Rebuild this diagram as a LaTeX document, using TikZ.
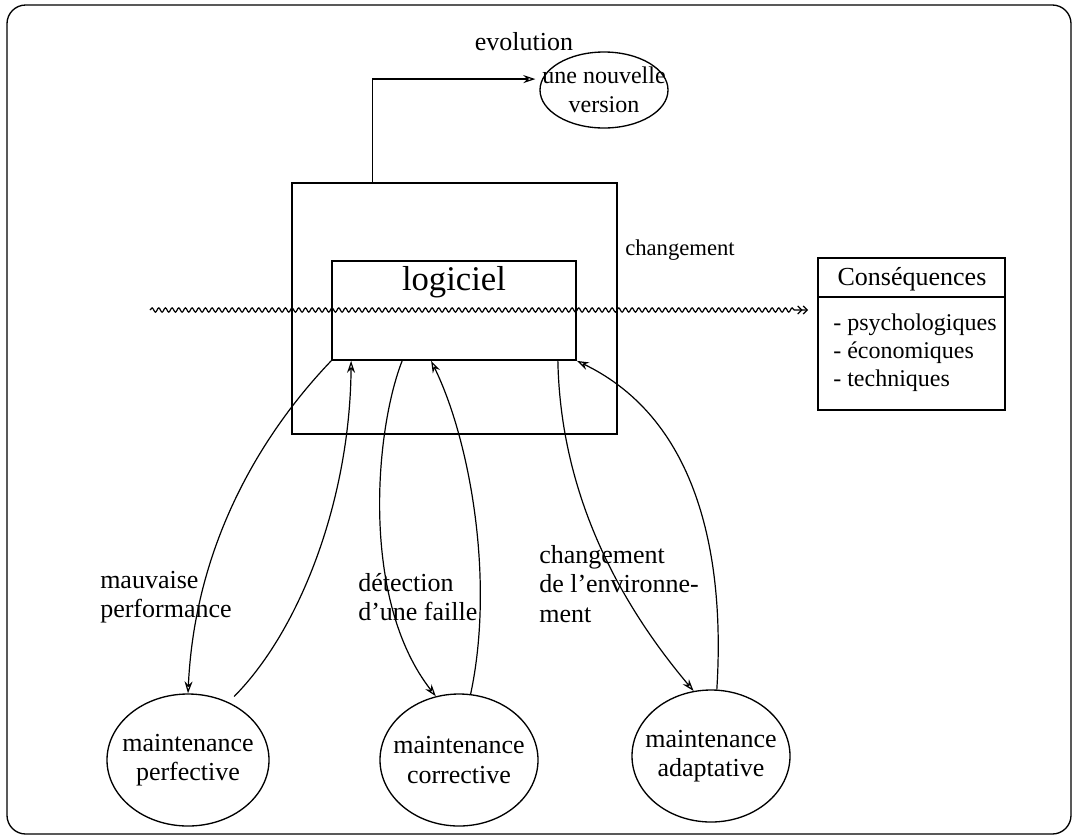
\documentclass[tikz,border=0pt]{standalone}
\usepackage{fontspec}
\setmainfont{Liberation Serif}
\usetikzlibrary{shapes.geometric,arrows.meta,decorations.pathmorphing,calc}

\begin{document}
\begin{tikzpicture}[x=0.75pt,y=-0.75pt,
  every node/.style={font=\fontsize{19.5}{22}\selectfont},
  box/.style={draw, line width=1.3pt, rectangle, inner sep=0pt},
  oval/.style={draw, line width=1pt, ellipse, inner xsep=-30pt, inner ysep=-20pt, align=center},
  lbl/.style={align=left, inner sep=0pt},
  arr/.style={line width=0.9pt, -{Stealth[open,length=9pt,width=6pt]}},
]
\useasboundingbox (0,0) rectangle (1073,836);
% page frame
\draw[line width=1pt, rounded corners=14pt] (7,5) rectangle (1071,834);

% software system and its core
\node[box, minimum width=243.75pt, minimum height=188.25pt] (outer) at (454.5,308.5) {};
\node[box, minimum width=183pt, minimum height=74.25pt] (logiciel) at (454,310.5) {};
\node[font=\fontsize{26}{30}\selectfont] (logtxt) at (454,282) {logiciel};

% consequences box
\node[box, minimum width=140.25pt, minimum height=114pt] (conseq) at (911.5,334) {};
\draw[line width=1.1pt] ($(conseq.north west)+(0,40)$) -- ($(conseq.north east)+(0,40)$);
\node (ctitle) at (912,279) {Conséquences};
\node[lbl, anchor=west, font=\fontsize{18}{21}\selectfont] (citems) at (833,353)
  {- psychologiques\\- économiques\\- techniques};

% new version
\node[oval, minimum width=96pt, minimum height=57pt, font=\fontsize{18}{22}\selectfont]
  (version) at (604,90) {une nouvelle\\version};
\coordinate (evo0) at ($(outer.north west)+(81,0)$);
\draw[arr, shorten >=5pt] (evo0) |- (version.170);
\node (evo) at (524,42) {evolution};

% change crossing the software
\coordinate (w1) at (150,310);
\coordinate (w2) at (808,310);
\draw[line width=0.9pt, decorate,
      decoration={snake, amplitude=1.6pt, segment length=5pt, post length=8pt},
      -{Straight Barb[length=3pt,width=6pt] Straight Barb[length=3pt,width=6pt]}] (w1) -- (w2);
\node[font=\fontsize{17}{20}\selectfont] (chg) at (680,250) {changement};

% maintenance kinds
\node[oval, minimum width=121.5pt, minimum height=99pt] (perf) at (188,760) {maintenance\\perfective};
\node[oval, minimum width=118.5pt, minimum height=99pt] (corr) at (459,760) {maintenance\\corrective};
\node[oval, minimum width=118.5pt, minimum height=99pt] (adap) at (711,756) {maintenance\\adaptative};

% maintenance loops
\draw[arr] (logiciel.south west) .. controls (265,430) and (195,540) .. (perf.north);
\draw[arr, shorten <=6pt] (perf.55) .. controls (300,630) and (350,500) .. ($(logiciel.south west)+(20,0)$);
\draw[arr] ($(logiciel.south west)+(71,0)$) .. controls (375,430) and (360,600) .. (corr.110);
\draw[arr] (corr.80) .. controls (495,580) and (470,440) .. ($(logiciel.south west)+(100,0)$);
\draw[arr] ($(logiciel.south east)+(-19,0)$) .. controls (560,470) and (600,580) .. (adap.105);
\draw[arr] (adap.85) .. controls (725,560) and (700,420) .. (logiciel.south east);

% reasons
\node[lbl, anchor=west] (lperf) at (100,597) {mauvaise\\performance};
\node[lbl, anchor=west] (lcorr) at (358,597) {détection\\d’une faille};
\node[lbl, anchor=west] (ladap) at (539,584) {changement\\de l’environne-\\ment};
\end{tikzpicture}
\end{document}
